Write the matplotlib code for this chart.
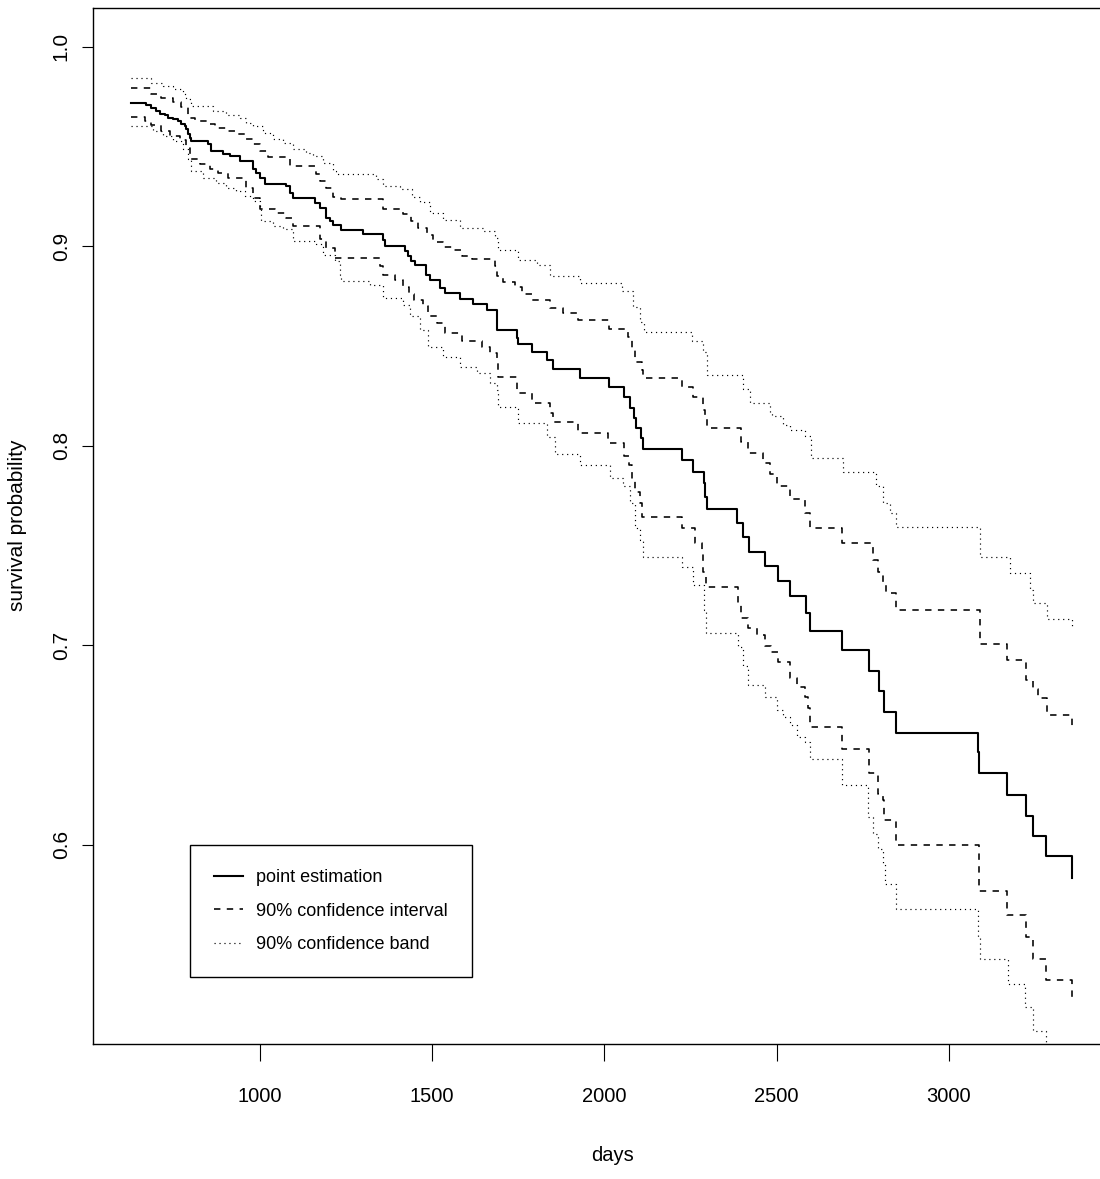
import matplotlib
matplotlib.use("Agg")
import matplotlib.pyplot as plt
from matplotlib.lines import Line2D

# ---- data ----
est_t = [624, 670, 684, 699, 709, 723, 733, 747, 762, 771, 781, 786, 791, 796, 800, 849, 859, 893, 912,
         941, 980, 989, 999, 1014, 1076, 1086, 1096, 1159, 1173, 1193, 1202, 1212, 1236, 1299, 1357, 1362,
         1420, 1430, 1439, 1449, 1483, 1493, 1523, 1537, 1581, 1619, 1660, 1687, 1689, 1745, 1750, 1789,
         1832, 1850, 1929, 2012, 2056, 2075, 2086, 2092, 2107, 2111, 2226, 2258, 2288, 2292, 2299, 2386,
         2403, 2420, 2466, 2503, 2540, 2584, 2598, 2690, 2768, 2796, 2811, 2846, 3085, 3089, 3170, 3223,
         3245, 3283, 3359]
est_s = [.9719, .9708, .9694, .9678, .9664, .9657, .9644, .9635, .9627, .9614, .9602, .9585, .9560, .9540,
         .9527, .9514, .9477, .9460, .9452, .9427, .9385, .9368, .9343, .9313, .9301, .9268, .9243, .9218,
         .9193, .9142, .9126, .9106, .9079, .9062, .9029, .9000, .8975, .8950, .8925, .8908, .8858, .8833,
         .8790, .8765, .8736, .8711, .8681, .8647, .8581, .8539, .8509, .8472, .8430, .8385, .8342, .8294,
         .8245, .8190, .8138, .8088, .8038, .7984, .7929, .7870, .7812, .7745, .7682, .7612, .7541, .7469,
         .7397, .7323, .7245, .7160, .7070, .6978, .6872, .6771, .6668, .6562, .6466, .6358, .6249, .6145,
         .6043, .5943, .5836]

ci_up_t = [624, 684, 713, 747, 771, 791, 810, 849, 868, 902, 931, 956, 980, 999, 1023, 1086, 1164, 1173,
           1193, 1212, 1236, 1357, 1415, 1437, 1460, 1484, 1503, 1532, 1561, 1586, 1615, 1682, 1687, 1707,
           1740, 1760, 1789, 1842, 1881, 1924, 2012, 2069, 2079, 2090, 2108, 2113, 2225, 2258, 2287, 2292,
           2297, 2398, 2416, 2461, 2481, 2502, 2539, 2583, 2597, 2690, 2781, 2795, 2810, 2819, 2848, 3091,
           3170, 3223, 3245, 3258, 3284, 3359]
ci_up_s = [.9794, .9764, .9744, .9723, .9699, .9644, .9627, .9614, .9590, .9577, .9560, .9535, .9510, .9477,
           .9448, .9402, .9360, .9327, .9293, .9246, .9234, .9184, .9159, .9125, .9093, .9055, .9022, .8995,
           .8979, .8952, .8935, .8902, .8852, .8823, .8798, .8761, .8731, .8690, .8664, .8630, .8587, .8543,
           .8480, .8422, .8380, .8338, .8296, .8246, .8180, .8146, .8090, .8021, .7966, .7912, .7860, .7800,
           .7735, .7662, .7590, .7512, .7430, .7369, .7310, .7263, .7179, .7008, .6925, .6824, .6780, .6738,
           .6649, .6592]

ci_lo_t = [624, 665, 684, 713, 738, 767, 786, 796, 825, 854, 878, 907, 960, 980, 999, 1043, 1076, 1096,
           1173, 1193, 1217, 1348, 1357, 1391, 1415, 1433, 1447, 1474, 1489, 1513, 1537, 1586, 1644, 1668,
           1687, 1690, 1745, 1789, 1842, 1852, 1924, 2011, 2058, 2072, 2079, 2089, 2103, 2108, 2224, 2263,
           2283, 2287, 2295, 2389, 2398, 2418, 2442, 2466, 2485, 2505, 2539, 2558, 2583, 2592, 2597, 2689,
           2768, 2795, 2810, 2812, 2846, 3089, 3170, 3223, 3245, 3283, 3359]
ci_lo_s = [.9647, .9627, .9607, .9577, .9552, .9530, .9494, .9435, .9410, .9385, .9368, .9343, .9293, .9243,
           .9184, .9167, .9142, .9101, .9037, .8992, .8942, .8900, .8858, .8833, .8795, .8760, .8728, .8698,
           .8651, .8614, .8564, .8527, .8497, .8464, .8414, .8344, .8263, .8213, .8163, .8121, .8066, .8013,
           .7950, .7904, .7825, .7770, .7712, .7645, .7586, .7511, .7469, .7369, .7293, .7210, .7135, .7085,
           .7051, .6995, .6968, .6917, .6834, .6792, .6742, .6684, .6592, .6483, .6358, .6257, .6224, .6123,
           .5998, .5769, .5647, .5538, .5430, .5321, .5221]

band_up_t = [624, 684, 718, 747, 776, 786, 800, 864, 902, 941, 960, 980, 1009, 1038, 1067, 1096, 1134, 1154,
             1183, 1212, 1222, 1338, 1357, 1406, 1440, 1464, 1494, 1532, 1581, 1648, 1682, 1692, 1750, 1803,
             1842, 1929, 2052, 2084, 2103, 2115, 2255, 2287, 2297, 2403, 2423, 2481, 2488, 2520, 2539, 2583,
             2600, 2694, 2790, 2810, 2829, 2848, 3091, 3178, 3236, 3245, 3284, 3357]
band_up_s = [.9841, .9820, .9803, .9786, .9761, .9736, .9703, .9678, .9657, .9644, .9619, .9602, .9569, .9539,
             .9519, .9485, .9468, .9452, .9418, .9377, .9360, .9335, .9301, .9285, .9245, .9222, .9165, .9130,
             .9091, .9074, .9041, .8982, .8932, .8907, .8852, .8815, .8777, .8694, .8622, .8570, .8526, .8472,
             .8357, .8284, .8213, .8163, .8150, .8104, .8079, .8048, .7937, .7870, .7799, .7712, .7662, .7594,
             .7444, .7364, .7277, .7213, .7130, .7093]

band_lo_t = [624, 689, 718, 747, 776, 791, 800, 834, 873, 902, 931, 956, 980, 999, 1004, 1038, 1067, 1096,
             1164, 1183, 1217, 1231, 1236, 1319, 1357, 1415, 1436, 1465, 1489, 1532, 1581, 1629, 1668, 1687,
             1692, 1750, 1832, 1857, 1929, 2016, 2055, 2074, 2089, 2103, 2113, 2224, 2258, 2289, 2295, 2389,
             2403, 2418, 2466, 2500, 2520, 2539, 2558, 2583, 2597, 2690, 2766, 2781, 2795, 2810, 2815, 2846,
             3086, 3091, 3173, 3221, 3245, 3281]
band_lo_s = [.9602, .9577, .9552, .9527, .9485, .9435, .9377, .9343, .9318, .9293, .9279, .9251, .9226, .9193,
             .9126, .9101, .9084, .9026, .9009, .8958, .8925, .8858, .8825, .8808, .8741, .8703, .8648, .8581,
             .8497, .8447, .8397, .8364, .8313, .8280, .8196, .8113, .8046, .7959, .7904, .7837, .7800, .7712,
             .7586, .7528, .7444, .7394, .7302, .7177, .7060, .6993, .6895, .6800, .6742, .6675, .6642, .6600,
             .6541, .6516, .6430, .6300, .6140, .6057, .5981, .5906, .5806, .5681, .5538, .5430, .5304, .5187,
             .5070, .4990]

x_ticks = [1000, 1500, 2000, 2500, 3000]
y_ticks = [0.6, 0.7, 0.8, 0.9, 1.0]
legend_labels = ["point estimation", "90% confidence interval", "90% confidence band"]

# ---- figure ----
W, H = 1100, 1179
FONT = ["Liberation Sans", "DejaVu Sans"]
fig = plt.figure(figsize=(W / 100, H / 100), dpi=100)
AX_L, AX_R, AX_T, AX_B = 93, 1109.6, 7.5, 1043.5
ax = fig.add_axes([AX_L / W, (H - AX_B) / H, (AX_R - AX_L) / W, (AX_B - AX_T) / H])

solid = dict(color="black", lw=1.5, linestyle="-")
dashed = dict(color="black", lw=1.15, linestyle=(0, (4.0, 4.0)))
dotted = dict(color="black", lw=0.85, linestyle=(0, (1.0, 3.2)))

ax.step(est_t, est_s, where="post", **solid)
ax.step(ci_up_t, ci_up_s, where="post", **dashed)
ax.step(ci_lo_t, ci_lo_s, where="post", **dashed)
ax.step(band_up_t, band_up_s, where="post", **dotted)
ax.step(band_lo_t, band_lo_s, where="post", **dotted)

ax.set_xlim(515.1, 3466.9)
ax.set_ylim(0.5005, 1.0196)

ax.set_xticks(x_ticks)
ax.set_xticklabels([str(v) for v in x_ticks], family=FONT, fontsize=14.5)
ax.set_yticks(y_ticks)
ax.set_yticklabels([f"{v:.1f}" for v in y_ticks], family=FONT,
                   fontsize=15, rotation=90, va="center")
ax.tick_params(axis="x", length=12.2, width=0.8, pad=19, direction="out")
ax.tick_params(axis="y", length=8, width=0.8, pad=8, direction="out")

for s in ["left", "bottom", "top", "right"]:
    ax.spines[s].set_linewidth(1.0)

ax.set_xlabel("days", family=FONT, fontsize=14.5)
ax.xaxis.set_label_coords((612 - AX_L) / (AX_R - AX_L), -(1146 - AX_B) / (AX_B - AX_T))
ax.set_ylabel("survival probability", family=FONT, fontsize=15)
ax.yaxis.set_label_coords(-(AX_L - 27) / (AX_R - AX_L), 0.5)

handles = [Line2D([], [], **solid), Line2D([], [], **dashed), Line2D([], [], **dotted)]
leg = ax.legend(handles, legend_labels, loc="upper left",
                bbox_to_anchor=(190 / W, 1 - 845 / H), bbox_transform=fig.transFigure,
                prop={"family": FONT, "size": 13},
                frameon=True, fancybox=False, framealpha=1, edgecolor="black",
                borderaxespad=0, borderpad=1.35, handlelength=1.6, handletextpad=0.7,
                labelspacing=0.9)
leg.get_frame().set_linewidth(1.0)

fig.savefig("out.png", dpi=100)
